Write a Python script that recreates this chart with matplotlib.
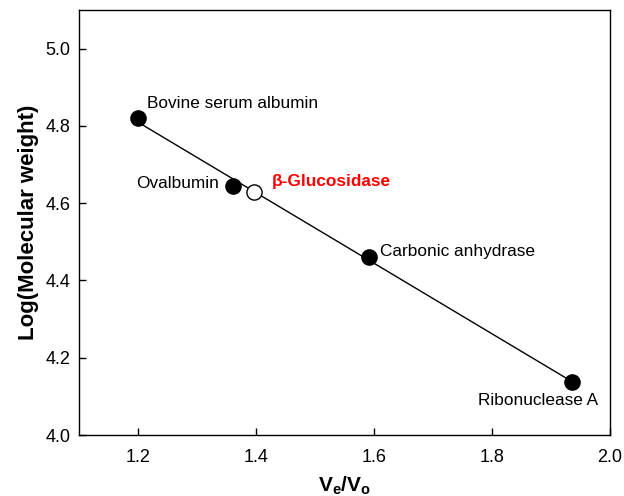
import numpy as np
import matplotlib
matplotlib.use("Agg")
import matplotlib.pyplot as plt

plt.rcParams['font.family'] = ['Liberation Sans', 'DejaVu Sans']
plt.rcParams['mathtext.fontset'] = 'custom'
plt.rcParams['mathtext.bf'] = 'Liberation Sans:bold'
plt.rcParams['mathtext.rm'] = 'Liberation Sans'

# standard proteins
names = ["Bovine serum albumin", "Ovalbumin", "Carbonic anhydrase", "Ribonuclease A"]
ve_vo = np.array([1.20, 1.361, 1.591, 1.936])
log_mw = np.array([4.820, 4.644, 4.462, 4.137])

# sample
sample_name = "\u03b2-Glucosidase"
sample_x = 1.397
sample_y = 4.630

fig = plt.figure(figsize=(6.24, 4.96), dpi=100)
ax = fig.add_axes([79/624, 61/496, 531/624, 425/496])

# regression line through the standards
k, b = np.polyfit(ve_vo, log_mw, 1)
xs = np.array([ve_vo.min(), ve_vo.max()])
ax.plot(xs, k*xs + b, color='black', lw=1.0, zorder=1)

ax.scatter(ve_vo, log_mw, s=120, color='black', zorder=3)
ax.scatter([sample_x], [sample_y], s=120, facecolor='white', edgecolor='black', lw=1.0, zorder=3)

fs = 12.4
ax.text(ve_vo[0] + 0.015, log_mw[0] + 0.038, names[0], fontsize=fs, va='center', ha='left')
ax.text(ve_vo[1] - 0.024, log_mw[1] + 0.007, names[1], fontsize=fs, va='center', ha='right')
ax.text(ve_vo[2] + 0.019, log_mw[2] + 0.013, names[2], fontsize=fs, va='center', ha='left')
ax.text(ve_vo[3] + 0.044, log_mw[3] - 0.047, names[3], fontsize=fs, va='center', ha='right')
ax.text(sample_x + 0.030, sample_y + 0.026, sample_name, fontsize=fs, va='center', ha='left',
        color='red', fontweight='bold')

ax.set_xlim(1.1, 2.0)
ax.set_ylim(4.0, 5.1)
ax.set_xticks([1.2, 1.4, 1.6, 1.8, 2.0])
ax.set_yticks([4.0, 4.2, 4.4, 4.6, 4.8, 5.0])
ax.xaxis.set_major_formatter(matplotlib.ticker.FormatStrFormatter('%.1f'))
ax.yaxis.set_major_formatter(matplotlib.ticker.FormatStrFormatter('%.1f'))
ax.tick_params(direction='in', length=5, width=1, labelsize=13)
ax.tick_params(axis='x', pad=10)
ax.tick_params(axis='y', pad=6)
for sp in ax.spines.values():
    sp.set_linewidth(1.0)

ax.set_xlabel(r'$\mathbf{V_e/V_o}$', fontsize=15, labelpad=6)
ax.set_ylabel('Log(Molecular weight)', fontsize=16, fontweight='bold', labelpad=5)

fig.savefig("out.png", dpi=100)
